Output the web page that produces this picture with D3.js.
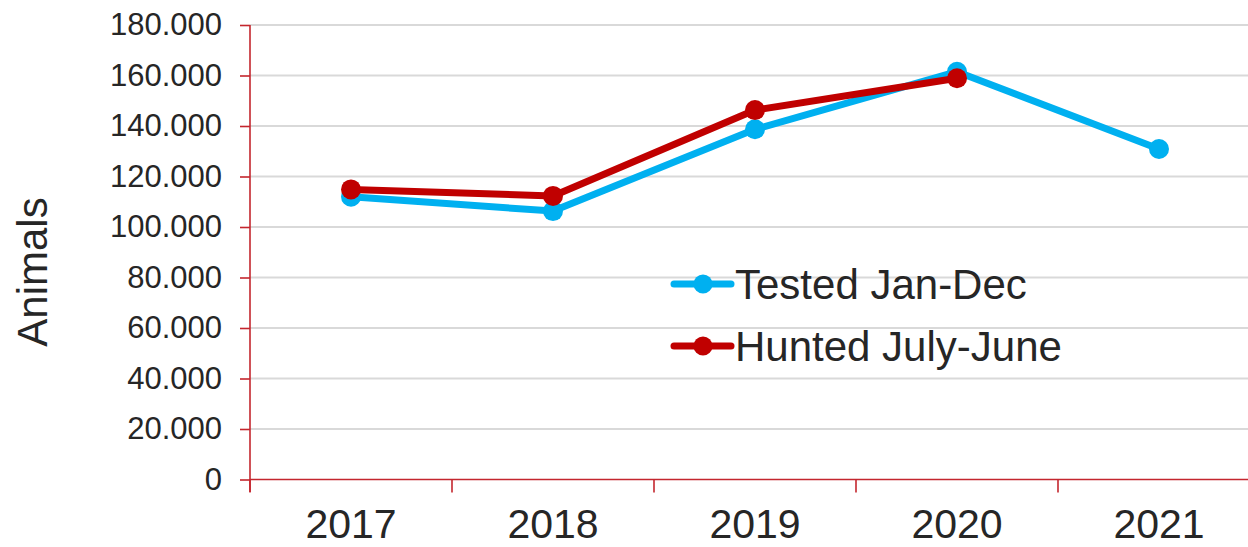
<!DOCTYPE html>
<html><head><meta charset="utf-8">
<script src="https://cdn.jsdelivr.net/npm/d3@7"></script>
<style>body{margin:0;background:#fff;}svg{display:block;font-family:"Liberation Sans",Arial,sans-serif;}</style>
</head><body>
<svg id="chart" width="1248" height="547"></svg>
<script>
const years = ["2017","2018","2019","2020","2021"];
const tested = [112000,106300,138700,161500,130900];
const hunted = [114900,112300,146300,158900,null];
const seriesNames = ["Tested Jan-Dec","Hunted July-June"];
const yTicks = [0,20000,40000,60000,80000,100000,120000,140000,160000,180000];

const svg = d3.select("#chart");
const axisColor = "#c4262e", gridColor = "#d9d9d9", textColor = "#262626";
const colors = ["#00b0f0","#c00000"];
const x = d3.scaleBand().domain(years).range([250,1260]).padding(0);
const y = d3.scaleLinear().domain([0,180000]).range([479.5,25]);
const loc = d3.formatLocale({decimal:",",thousands:".",grouping:[3],currency:["",""]});
const fmt = loc.format(",");

// gridlines
svg.append("g").selectAll("line").data(yTicks.filter(d=>d>0)).join("line")
  .attr("x1",250).attr("x2",1248).attr("y1",d=>y(d)).attr("y2",d=>y(d))
  .attr("stroke",gridColor).attr("stroke-width",2);

// y axis
const ya = svg.append("g").attr("transform","translate(250,0)")
  .call(d3.axisLeft(y).tickValues(yTicks).tickFormat(fmt).tickSize(10).tickPadding(18));
ya.select(".domain").attr("stroke",axisColor).attr("stroke-width",1.6).attr("d","M0,25V492");
ya.selectAll(".tick line").attr("stroke",axisColor).attr("stroke-width",1.6);
ya.selectAll(".tick text").attr("fill",textColor).style("font-size","31px").style("font-family","Liberation Sans, Arial, sans-serif");

// x axis
const xa = svg.append("g").attr("transform",`translate(0,${y(0)})`)
  .call(d3.axisBottom(x).tickSize(0).tickPadding(0));
xa.select(".domain").attr("stroke",axisColor).attr("stroke-width",1.6).attr("d","M250,0H1248");
xa.selectAll(".tick text").attr("fill",textColor).style("font-size","41px")
  .style("font-family","Liberation Sans, Arial, sans-serif").attr("dy",null).attr("y",58);
xa.selectAll(".edge").data(years).join("line").attr("class","edge")
  .attr("x1",d=>x(d)).attr("x2",d=>x(d)).attr("y1",0).attr("y2",13)
  .attr("stroke",axisColor).attr("stroke-width",1.6);

// y label
svg.append("text").attr("transform","translate(47,272) rotate(-90)")
  .attr("text-anchor","middle").attr("fill",textColor).style("font-size","42px").text("Animals");

// series
const line = d3.line().defined(d=>d.v!=null).x(d=>x(d.k)+x.bandwidth()/2).y(d=>y(d.v));
[tested,hunted].forEach((vals,i)=>{
  const data = years.map((k,j)=>({k,v:vals[j]}));
  const g = svg.append("g");
  g.append("path").datum(data).attr("d",line).attr("fill","none")
    .attr("stroke",colors[i]).attr("stroke-width",7).attr("stroke-linejoin","round");
  g.selectAll("circle").data(data.filter(d=>d.v!=null)).join("circle")
    .attr("cx",d=>x(d.k)+x.bandwidth()/2).attr("cy",d=>y(d.v)).attr("r",10).attr("fill",colors[i]);
});

// legend
const leg = svg.append("g");
const legY = [284,346];
seriesNames.forEach((n,i)=>{
  leg.append("line").attr("x1",674).attr("x2",731).attr("y1",legY[i]).attr("y2",legY[i])
    .attr("stroke",colors[i]).attr("stroke-width",7).attr("stroke-linecap","round");
  leg.append("circle").attr("cx",703).attr("cy",legY[i]).attr("r",9.5).attr("fill",colors[i]);
  leg.append("text").attr("x",735).attr("y",legY[i]).attr("dy","0.35em").attr("fill",textColor)
    .style("font-size","42px").text(n);
});
</script>
</body></html>
